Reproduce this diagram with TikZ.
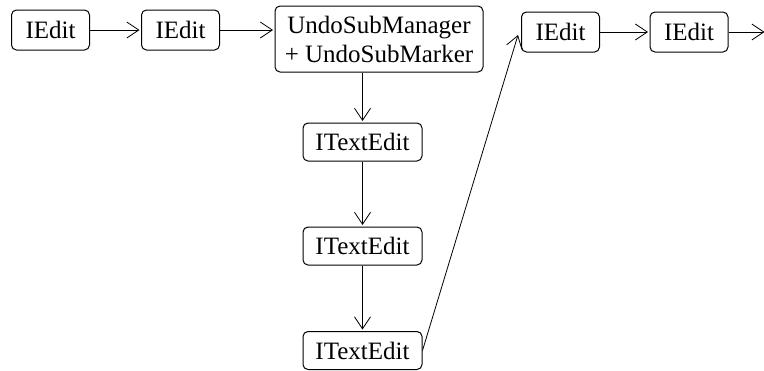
\documentclass[tikz,border=0pt]{standalone}
\usepackage{fontspec}
\setmainfont{Liberation Serif}
\usetikzlibrary{arrows.meta,calc}
\begin{document}
\begin{tikzpicture}[x=1pt,y=-1pt,
  box/.style={draw, line width=1pt, rounded corners=5pt, inner sep=0pt, align=center,
    font=\fontsize{25}{29}\selectfont},
  ebox/.style={box, minimum width=78pt, minimum height=40pt},
  tbox/.style={box, minimum width=119pt, minimum height=38pt},
  conn/.style={line width=0.8pt, -{Straight Barb[length=12pt,width=16pt,line width=0.8pt]}, shorten >=1.5pt}]
\useasboundingbox (0,0) rectangle (764,370);
\node[ebox] (b1) at (50.5,30) {IEdit};
\node[ebox] (b2) at (180.5,30) {IEdit};
\node[box, minimum width=208pt, minimum height=66pt] (b3) at (379,39) {UndoSubManager\\+ UndoSubMarker};
\node[ebox] (b4) at (560.5,32) {IEdit};
\node[ebox] (b5) at (689,32) {IEdit};
\node[tbox] (t1) at (362.5,142) {ITextEdit};
\node[tbox] (t2) at (362.5,246) {ITextEdit};
\node[tbox] (t3) at (362.5,350.5) {ITextEdit};
\coordinate (out) at (766,32);
\coordinate (b4in) at ($(b4.west)+(-3,3)$);
\draw[conn] (b1.east) -- (b2.west);
\draw[conn] (b2.east) -- (b2.east -| b3.west);
\draw[conn] (t1.north |- b3.south) -- (t1.north);
\draw[conn] (t1.south) -- (t2.north);
\draw[conn] (t2.south) -- (t3.north);
\draw[conn, shorten >=0pt] (t3.east) -- (b4in);
\draw[conn] (b4.east) -- (b5.west);
\draw[conn] (b5.east) -- (out);
\end{tikzpicture}
\end{document}
